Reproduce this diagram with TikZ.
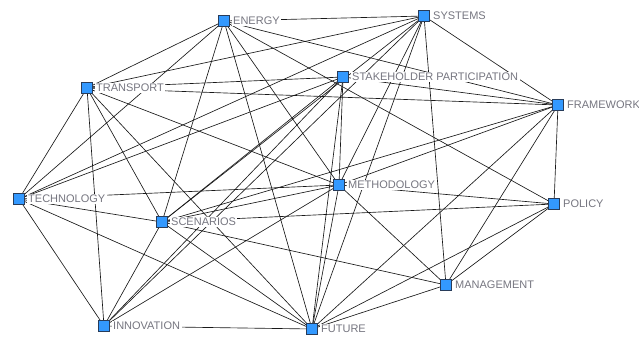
\documentclass[tikz,border=0pt]{standalone}
\usepackage{fontspec}
\setmainfont{Liberation Sans}
\begin{document}
\begin{tikzpicture}[x=1pt,y=-1pt,
  nd/.style={draw={rgb,255:red,40;green,60;blue,90},fill={rgb,255:red,51;green,153;blue,255},minimum size=11pt,inner sep=0pt,line width=0.6pt},
  lab/.style={anchor=west,fill=white,inner sep=1.5pt,text={rgb,255:red,118;green,118;blue,128},font=\fontsize{11}{12}\selectfont},
  ed/.style={draw=black!90,line width=0.65pt}]
\useasboundingbox (0,0) rectangle (639,339);
\coordinate (E) at (224,21);
\coordinate (SY) at (424,16);
\coordinate (T) at (87,88);
\coordinate (SP) at (343,77);
\coordinate (F) at (558,105);
\coordinate (TE) at (19,199);
\coordinate (M) at (339,185);
\coordinate (SC) at (162,222);
\coordinate (P) at (554,204);
\coordinate (MA) at (446,285);
\coordinate (I) at (104,326);
\coordinate (FU) at (312,329);
% edges
\foreach \a/\b in {E/SY,E/F,E/T,E/TE,E/SC,E/FU,E/M,E/P,
  SY/F,SY/MA,SY/T,SY/TE,SY/I,SY/M,SY/FU,SY/SC,
  T/SP,T/F,T/M,T/TE,T/I,T/SC,T/FU,
  SP/F,SP/M,SP/FU,SP/SC,SP/TE,SP/I,
  F/SC,F/M,F/FU,F/MA,F/P,
  TE/M,TE/SC,TE/I,TE/FU,
  M/P,M/MA,M/FU,M/SC,M/I,
  SC/P,SC/MA,SC/FU,SC/I,
  P/MA,P/FU,
  MA/FU,I/FU}
  \draw[ed] (\a) -- (\b);
% labels
\node[lab] (lE) at ([xshift=7.5]E) {ENERGY};
\node[lab] (lSY) at ([xshift=7.5]SY) {SYSTEMS};
\node[lab] (lT) at ([xshift=7.5]T) {TRANSPORT};
\node[lab] (lSP) at ([xshift=7.5]SP) {STAKEHOLDER PARTICIPATION};
\node[lab] (lF) at ([xshift=7.5]F) {FRAMEWORK};
\node[lab] (lTE) at ([xshift=7.5]TE) {TECHNOLOGY};
\node[lab] (lM) at ([xshift=7.5]M) {METHODOLOGY};
\node[lab] (lSC) at ([xshift=7.5]SC) {SCENARIOS};
\node[lab] (lP) at ([xshift=7.5]P) {POLICY};
\node[lab] (lMA) at ([xshift=7.5]MA) {MANAGEMENT};
\node[lab] (lI) at ([xshift=7.5]I) {INNOVATION};
\node[lab] (lFU) at ([xshift=7.5]FU) {FUTURE};
% node squares
\foreach \n in {E,SY,T,SP,F,TE,M,SC,P,MA,I,FU}
  \node[nd] (n\n) at (\n) {};
\end{tikzpicture}
\end{document}
